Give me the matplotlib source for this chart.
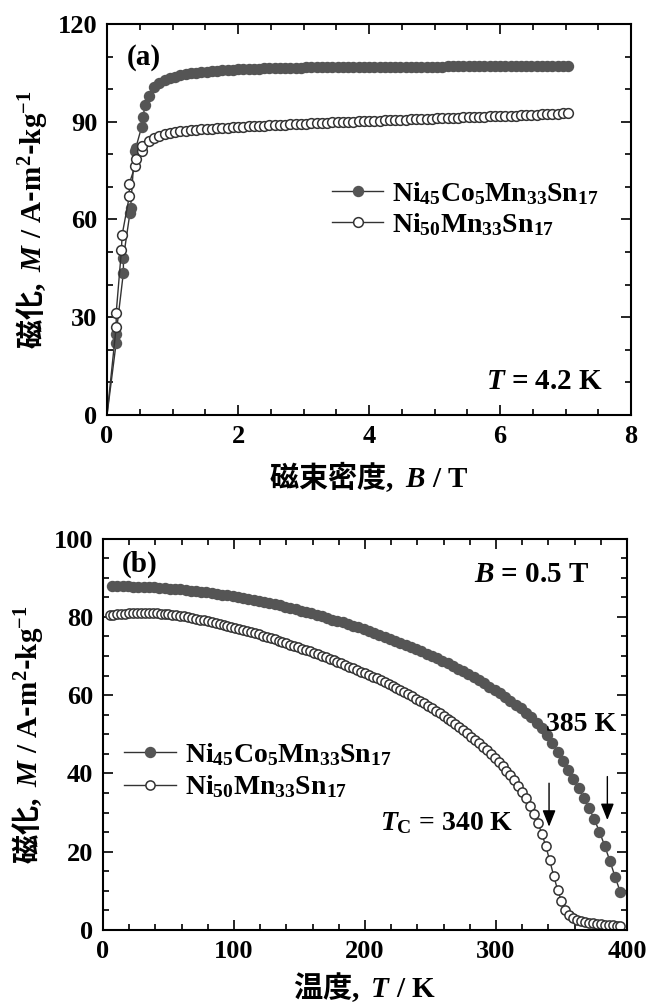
import numpy as np
import matplotlib as mpl

mpl.use("Agg")
import matplotlib.pyplot as plt
from matplotlib.ticker import MultipleLocator

plt.rcParams["font.family"] = ["Liberation Serif", "Noto Sans CJK JP"]
plt.rcParams["font.weight"] = "bold"
plt.rcParams["mathtext.fontset"] = "custom"
plt.rcParams["mathtext.rm"] = "Liberation Serif:bold"
plt.rcParams["mathtext.it"] = "Liberation Serif:italic:bold"
plt.rcParams["mathtext.bf"] = "Liberation Serif:bold"
plt.rcParams["mathtext.default"] = "rm"

# ---- (a) M vs B at 4.2 K ----
# low-field points (first entry is the origin, drawn as line only)
field_fill_low = [0.0, 0.14, 0.14, 0.25, 0.25, 0.35, 0.36, 0.42, 0.44, 0.53, 0.55, 0.58]
mag_fill_low = [0.0, 22.2, 25.0, 43.7, 48.2, 62.0, 63.5, 81.0, 82.0, 88.5, 91.5, 95.0]
field_open_low = [0.0, 0.14, 0.14, 0.22, 0.23, 0.34, 0.34, 0.43, 0.44, 0.53, 0.54]
mag_open_low = [0.0, 27.1, 31.3, 50.6, 55.2, 67.1, 71.0, 76.5, 78.5, 81.0, 82.5]

field_high = [
    0.64, 0.72, 0.80, 0.88, 0.96, 1.04, 1.12, 1.20, 1.28, 1.36,
    1.44, 1.52, 1.60, 1.68, 1.76, 1.84, 1.92, 2.00, 2.08, 2.16,
    2.24, 2.32, 2.40, 2.48, 2.56, 2.64, 2.72, 2.80, 2.88, 2.96,
    3.04, 3.12, 3.20, 3.28, 3.36, 3.44, 3.52, 3.60, 3.68, 3.76,
    3.84, 3.92, 4.00, 4.08, 4.16, 4.24, 4.32, 4.40, 4.48, 4.56,
    4.64, 4.72, 4.80, 4.88, 4.96, 5.04, 5.12, 5.20, 5.28, 5.36,
    5.44, 5.52, 5.60, 5.68, 5.76, 5.84, 5.92, 6.00, 6.08, 6.16,
    6.24, 6.32, 6.40, 6.48, 6.56, 6.64, 6.72, 6.80, 6.88, 6.96,
    7.04,
]
mag_fill_high = [
    98.0, 100.5, 101.8, 102.7, 103.3, 103.8, 104.2, 104.5, 104.8, 105.0,
    105.2, 105.4, 105.5, 105.7, 105.8, 105.9, 106.0, 106.1, 106.2, 106.2,
    106.3, 106.3, 106.4, 106.4, 106.5, 106.5, 106.5, 106.6, 106.6, 106.6,
    106.7, 106.7, 106.7, 106.7, 106.7, 106.7, 106.8, 106.8, 106.8, 106.8,
    106.8, 106.8, 106.8, 106.8, 106.8, 106.8, 106.8, 106.9, 106.9, 106.9,
    106.9, 106.9, 106.9, 106.9, 106.9, 106.9, 106.9, 107.0, 107.0, 107.0,
    107.0, 107.0, 107.0, 107.0, 107.0, 107.0, 107.0, 107.0, 107.0, 107.1,
    107.1, 107.1, 107.1, 107.1, 107.1, 107.1, 107.1, 107.1, 107.1, 107.1,
    107.1,
]
mag_open_high = [
    84.2, 85.0, 85.6, 86.1, 86.5, 86.8, 87.0, 87.2, 87.4, 87.5,
    87.7, 87.8, 87.9, 88.0, 88.1, 88.2, 88.3, 88.4, 88.5, 88.6,
    88.7, 88.7, 88.8, 88.9, 89.0, 89.1, 89.1, 89.2, 89.3, 89.4,
    89.4, 89.5, 89.6, 89.6, 89.7, 89.8, 89.8, 89.9, 90.0, 90.0,
    90.1, 90.2, 90.2, 90.3, 90.3, 90.4, 90.5, 90.5, 90.6, 90.6,
    90.7, 90.8, 90.8, 90.9, 90.9, 91.0, 91.1, 91.1, 91.2, 91.2,
    91.3, 91.4, 91.4, 91.5, 91.5, 91.6, 91.7, 91.7, 91.8, 91.9,
    91.9, 92.0, 92.1, 92.1, 92.2, 92.3, 92.3, 92.4, 92.5, 92.6,
    92.7,
]

# ---- (b) M vs T at 0.5 T ----
temp_fill = [
    7, 11, 15, 19, 23, 27, 31, 35, 39, 43,
    47, 51, 55, 59, 63, 67, 71, 75, 79, 83,
    87, 91, 95, 99, 103, 107, 111, 115, 119, 123,
    127, 131, 135, 139, 143, 147, 151, 155, 159, 163,
    167, 171, 175, 179, 183, 187, 191, 195, 199, 203,
    207, 211, 215, 219, 223, 227, 231, 235, 239, 243,
    247, 251, 255, 259, 263, 267, 271, 275, 279, 283,
    287, 291, 295, 299, 303, 307, 311, 315, 319, 323,
    327, 331, 335, 339, 343, 347, 351, 355, 359, 363,
    367, 371, 375, 379, 383, 387, 391, 395,
]
mag_t_fill = [
    87.8, 87.8, 87.8, 87.8, 87.7, 87.7, 87.6, 87.6, 87.5, 87.4,
    87.3, 87.2, 87.1, 87.0, 86.9, 86.7, 86.6, 86.4, 86.3, 86.1,
    85.9, 85.7, 85.5, 85.3, 85.1, 84.8, 84.6, 84.3, 84.0, 83.8,
    83.5, 83.2, 82.9, 82.6, 82.2, 81.9, 81.6, 81.2, 80.9, 80.5,
    80.1, 79.7, 79.3, 79.0, 78.6, 78.1, 77.7, 77.3, 76.8, 76.4,
    75.9, 75.4, 74.9, 74.4, 73.9, 73.4, 72.9, 72.3, 71.8, 71.2,
    70.6, 70.0, 69.4, 68.8, 68.1, 67.5, 66.8, 66.1, 65.4, 64.6,
    63.8, 63.0, 62.2, 61.4, 60.5, 59.6, 58.6, 57.6, 56.6, 55.5,
    54.3, 53.0, 51.5, 49.8, 47.8, 45.6, 43.3, 41.0, 38.6, 36.2,
    33.7, 31.2, 28.3, 25.1, 21.5, 17.6, 13.5, 9.6,
]
temp_open = [
    5, 8, 11, 14, 17, 20, 23, 26, 29, 32,
    35, 38, 41, 44, 47, 50, 53, 56, 59, 62,
    65, 68, 71, 74, 77, 80, 83, 86, 89, 92,
    95, 98, 101, 104, 107, 110, 113, 116, 119, 122,
    125, 128, 131, 134, 137, 140, 143, 146, 149, 152,
    155, 158, 161, 164, 167, 170, 173, 176, 179, 182,
    185, 188, 191, 194, 197, 200, 203, 206, 209, 212,
    215, 218, 221, 224, 227, 230, 233, 236, 239, 242,
    245, 248, 251, 254, 257, 260, 263, 266, 269, 272,
    275, 278, 281, 284, 287, 290, 293, 296, 299, 302,
    305, 308, 311, 314, 317, 320, 323, 326, 329, 332,
    335, 338, 341, 344, 347, 350, 353, 356, 359, 362,
    365, 368, 371, 374, 377, 380, 383, 386, 389, 392, 395,
]
mag_t_open = [
    80.4, 80.5, 80.6, 80.7, 80.8, 80.9, 80.9, 81.0, 81.0, 81.0,
    81.0, 80.9, 80.9, 80.8, 80.7, 80.6, 80.5, 80.4, 80.2, 80.1,
    79.9, 79.7, 79.5, 79.3, 79.1, 78.9, 78.7, 78.4, 78.2, 77.9,
    77.7, 77.4, 77.2, 76.9, 76.7, 76.4, 76.1, 75.8, 75.5, 75.2,
    74.9, 74.6, 74.3, 73.9, 73.6, 73.3, 72.9, 72.6, 72.2, 71.9,
    71.5, 71.2, 70.8, 70.4, 70.1, 69.7, 69.3, 68.9, 68.5, 68.1,
    67.7, 67.3, 66.9, 66.5, 66.0, 65.6, 65.2, 64.7, 64.3, 63.8,
    63.3, 62.8, 62.3, 61.8, 61.3, 60.8, 60.2, 59.7, 59.1, 58.5,
    57.9, 57.3, 56.7, 56.0, 55.4, 54.7, 54.0, 53.3, 52.6, 51.8,
    51.0, 50.2, 49.4, 48.6, 47.7, 46.8, 45.9, 44.9, 43.9, 42.9,
    41.8, 40.7, 39.5, 38.2, 36.8, 35.3, 33.6, 31.8, 29.7, 27.4,
    24.6, 21.4, 17.8, 13.9, 10.3, 7.3, 5.2, 3.9, 3.1, 2.6,
    2.3, 2.0, 1.9, 1.7, 1.6, 1.5, 1.4, 1.3, 1.2, 1.1, 1.0,
]

label_fill = r"$Ni_{45}Co_{5}Mn_{33}Sn_{17}$"
label_open = r"$Ni_{50}Mn_{33}Sn_{17}$"

fill_col = "#555555"
edge_col = "#333333"
line_col = "#333333"
cjk = dict(family="Noto Sans CJK JP", weight="bold", size=21)


def style_axes(ax, xmaj, xmin, ymaj, ymin):
    """inward ticks on all four sides, thick frame"""
    ax.xaxis.set_major_locator(MultipleLocator(xmaj))
    ax.xaxis.set_minor_locator(MultipleLocator(xmin))
    ax.yaxis.set_major_locator(MultipleLocator(ymaj))
    ax.yaxis.set_minor_locator(MultipleLocator(ymin))
    ax.tick_params(which="both", direction="in", top=True, right=True,
                   width=1.2, labelsize=19, pad=7)
    ax.tick_params(which="major", length=7)
    ax.tick_params(which="minor", length=4)
    for s in ax.spines.values():
        s.set_linewidth(1.5)


fig = plt.figure(figsize=(6.49, 10.06), dpi=100)
ax1 = fig.add_axes([0.1649, 0.5875, 0.8074, 0.3887])
ax2 = fig.add_axes([0.1587, 0.0755, 0.8074, 0.3892])

# panel (a)
b_fill = np.concatenate([field_fill_low, field_high])
m_fill = np.concatenate([mag_fill_low, mag_fill_high])
b_open = np.concatenate([field_open_low, field_high])
m_open = np.concatenate([mag_open_low, mag_open_high])

ax1.plot(b_fill, m_fill, "-o", color=line_col, lw=1, ms=7.2, mfc=fill_col,
         mec=fill_col, markevery=slice(1, None), label=label_fill)
ax1.plot(b_open, m_open, "-o", color=line_col, lw=1, ms=7.0, mfc="white",
         mec=edge_col, mew=1.1, markevery=slice(1, None), label=label_open)
ax1.set_xlim(0, 8)
ax1.set_ylim(0, 120)
style_axes(ax1, 2, 0.5, 30, 10)
ax1.set_xlabel("磁束密度" + r"$,\ \mathit{B}\ /\ T$", fontdict=cjk, labelpad=8)
ax1.set_ylabel("磁化" + r"$,\ \mathit{M}\ /\ A$-$m^{2}$-$kg^{-1}$", fontdict=cjk, labelpad=6)
ax1.text(0.30, 109.7, "(a)", fontsize=21, ha="left", va="center")
ax1.text(7.57, 10.3, r"$\mathit{T}$ = 4.2 K", fontsize=21, ha="right", va="center")
ax1.legend(loc="upper left", bbox_to_anchor=(0.429, 0.601), frameon=False,
           fontsize=20, handlelength=1.86, handletextpad=0.3, labelspacing=0.15,
           borderpad=0, borderaxespad=0, numpoints=1)

# panel (b)
ax2.plot(temp_fill, mag_t_fill, "-o", color=line_col, lw=1, ms=7.2,
         mfc=fill_col, mec=fill_col, label=label_fill)
ax2.plot(temp_open, mag_t_open, "-o", color=line_col, lw=1, ms=6.6,
         mfc="white", mec=edge_col, mew=1.1, label=label_open)
ax2.set_xlim(0, 400)
ax2.set_ylim(0, 100)
style_axes(ax2, 100, 20, 20, 5)
ax2.set_xlabel("温度" + r"$,\ \mathit{T}\ /\ K$", fontdict=cjk, labelpad=5)
ax2.set_ylabel("磁化" + r"$,\ \mathit{M}\ /\ A$-$m^{2}$-$kg^{-1}$", fontdict=cjk, labelpad=6)
ax2.text(14.3, 93.5, "(b)", fontsize=21, ha="left", va="center")
ax2.text(371, 90.7, r"$\mathit{B}$ = 0.5 T", fontsize=21, ha="right", va="center")
ax2.text(392, 52.4, "385 K", fontsize=20, ha="right", va="center")
ax2.text(313, 27.3, r"$\mathit{T}_{C}$ = 340 K", fontsize=20, ha="right", va="center")
arrow = dict(arrowstyle="-|>,head_width=0.2,head_length=0.5", color="black",
             lw=1.0, mutation_scale=20, shrinkA=0, shrinkB=0)
ax2.annotate("", xy=(340.5, 26.4), xytext=(340.5, 37.5), arrowprops=arrow)
ax2.annotate("", xy=(385, 28.1), xytext=(385, 39.2), arrowprops=arrow)
ax2.legend(loc="upper left", bbox_to_anchor=(0.0395, 0.483), frameon=False,
           fontsize=20, handlelength=1.9, handletextpad=0.3, labelspacing=0.2,
           borderpad=0, borderaxespad=0, numpoints=1)

fig.savefig("out.png", dpi=100)
